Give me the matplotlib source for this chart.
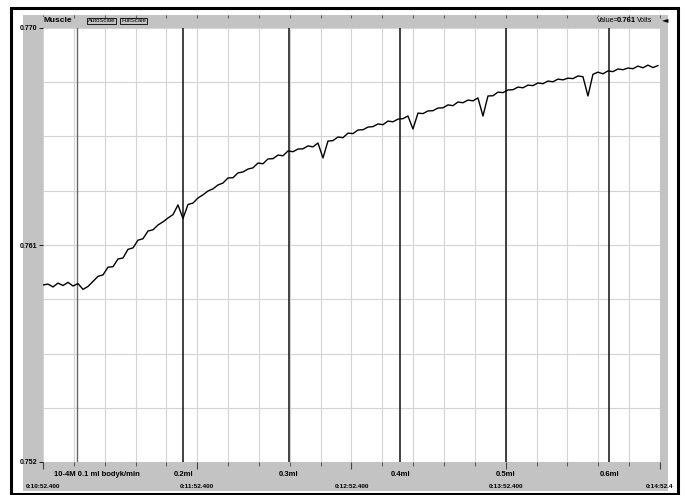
import numpy as np
import matplotlib
matplotlib.use("Agg")
import matplotlib.pyplot as plt
from matplotlib.patches import Rectangle

plt.rcParams['font.family'] = ['Liberation Sans Narrow', 'Liberation Sans', 'DejaVu Sans']

volts = [
    0.75934, 0.75938, 0.75926, 0.75942, 0.75932, 0.75945, 0.75930, 0.75940,
    0.75916, 0.75928, 0.75949, 0.75970, 0.75976, 0.76008, 0.76010, 0.76042,
    0.76046, 0.76082, 0.76088, 0.76120, 0.76126, 0.76158, 0.76163, 0.76183,
    0.76196, 0.76212, 0.76226, 0.76266, 0.76210, 0.76268, 0.76274, 0.76295,
    0.76308, 0.76324, 0.76333, 0.76349, 0.76357, 0.76378, 0.76379, 0.76399,
    0.76403, 0.76415, 0.76420, 0.76440, 0.76437, 0.76457, 0.76458, 0.76473,
    0.76470, 0.76490, 0.76487, 0.76498, 0.76499, 0.76511, 0.76507, 0.76523,
    0.76461, 0.76531, 0.76533, 0.76548, 0.76545, 0.76564, 0.76562, 0.76577,
    0.76578, 0.76589, 0.76591, 0.76602, 0.76599, 0.76614, 0.76611, 0.76622,
    0.76624, 0.76635, 0.76581, 0.76647, 0.76645, 0.76656, 0.76657, 0.76668,
    0.76669, 0.76681, 0.76678, 0.76693, 0.76690, 0.76701, 0.76698, 0.76710,
    0.76635, 0.76718, 0.76719, 0.76734, 0.76732, 0.76743, 0.76744, 0.76755,
    0.76752, 0.76763, 0.76761, 0.76772, 0.76769, 0.76780, 0.76777, 0.76788,
    0.76785, 0.76792, 0.76790, 0.76801, 0.76798, 0.76718, 0.76808, 0.76817,
    0.76810, 0.76822, 0.76819, 0.76830, 0.76827, 0.76834, 0.76831, 0.76842,
    0.76835, 0.76846, 0.76836, 0.76844,
]
t_last = 239.2  # s

# comment markers (s from left edge) and their labels
event_times = [13.2, 54.5, 95.7, 138.9, 180.1, 220.2]
event_labels = ["10-4M 0.1 ml bodyk/min", "0.2ml", "0.3ml", "0.4ml", "0.5ml", "0.6ml"]
event_label_x = [21.0, 54.5, 95.7, 138.9, 180.1, 220.2]

time_ticks = [0, 60, 120, 180, 240]
time_labels = ["0:10:52.400", "0:11:52.400", "0:12:52.400", "0:13:52.400", "0:14:52.4"]
y_ticks = [0.752, 0.761, 0.770]
y_labels = ["0.752", "0.761", "0.770"]

W, H = 687, 495
fig = plt.figure(figsize=(W / 100, H / 100), dpi=100)
fig.patch.set_facecolor("white")


def box(x0, y0, x1, y1, **kw):
    # rectangle in screen pixels (y downwards)
    fig.add_artist(Rectangle((x0 / W, 1 - y1 / H), (x1 - x0) / W, (y1 - y0) / H,
                             transform=fig.transFigure, **kw))


gray = "#c3c3c3"
box(23, 15, 668, 491, facecolor=gray, edgecolor="none", zorder=0)
box(11, 8, 678, 494, facecolor="none", edgecolor="black", lw=2.2, zorder=5)

ax = fig.add_axes([43 / W, 1 - 462 / H, (660 - 43) / W, (462 - 28) / H])
ax.set_facecolor("white")

t = np.linspace(0, t_last, len(volts))
ax.plot(t, volts, color="black", lw=1.0, zorder=3)

for i, (et, lab, lx) in enumerate(zip(event_times, event_labels, event_label_x)):
    ax.axvline(et, color="#666666" if i == 0 else "#222222", lw=1.0 if i == 0 else 1.2, zorder=2)
    ax.text(lx, -0.02, lab, transform=ax.get_xaxis_transform(), ha="center", va="top",
            fontsize=5.5, fontweight="bold")

ax.set_xlim(0, 240)
ax.set_ylim(0.752, 0.770)
ax.set_xticks(time_ticks)
ax.set_xticklabels(time_labels, fontsize=4.6, fontweight="bold")
ax.set_xticks(np.arange(0, 241, 12), minor=True)
ax.set_yticks(y_ticks)
ax.set_yticklabels(y_labels, fontsize=5, fontweight="bold")
ax.set_yticks(np.linspace(0.752, 0.770, 9), minor=True)
ax.tick_params(axis="x", which="major", length=5, width=0.8, pad=11, color="#444444")
ax.tick_params(axis="x", which="minor", length=3, width=0.6, color="#444444")
ax.tick_params(axis="y", which="major", length=3, width=0.6, pad=1)
ax.tick_params(axis="y", which="minor", length=0)
ax.grid(True, which="both", color="#d4d4d4", lw=0.8, zorder=1)
ax.set_axisbelow(True)
for s in ax.spines.values():
    s.set_visible(False)

# small ticks along the top band
ax.vlines(np.arange(0, 241, 12), 1.023, 1.030, transform=ax.get_xaxis_transform(),
          color="#444444", lw=0.6, clip_on=False)

# header bar text
hx = lambda px: px / W
hy = lambda py: 1 - py / H
fig.text(hx(44), hy(21), "Muscle", fontsize=6, fontweight="bold", va="center", ha="left", zorder=6,
         bbox=dict(boxstyle="square,pad=0.1", facecolor=gray, edgecolor="none"))
for x0, lab in [(88, "AutoScale"), (121, "FullScale")]:
    fig.text(hx(x0), hy(21), lab, fontsize=4.3, va="center", ha="left", zorder=6,
             bbox=dict(boxstyle="square,pad=0.12", facecolor=gray, edgecolor="black", lw=0.6))
fig.text(hx(597), hy(21), "Value=", fontsize=5, va="center", ha="left", zorder=6,
         bbox=dict(boxstyle="square,pad=0.1", facecolor=gray, edgecolor="none"))
fig.text(hx(617), hy(21), "0.761", fontsize=5.5, fontweight="bold", va="center", ha="left", zorder=6)
fig.text(hx(637), hy(21), "Volts", fontsize=5, va="center", ha="left", zorder=6,
         bbox=dict(boxstyle="square,pad=0.1", facecolor=gray, edgecolor="none"))
fig.text(hx(665), hy(20), "\u25c4", fontsize=6, va="center", ha="center", zorder=6,
         family=["DejaVu Sans"])

fig.savefig("out.png", dpi=100, facecolor=fig.get_facecolor())
